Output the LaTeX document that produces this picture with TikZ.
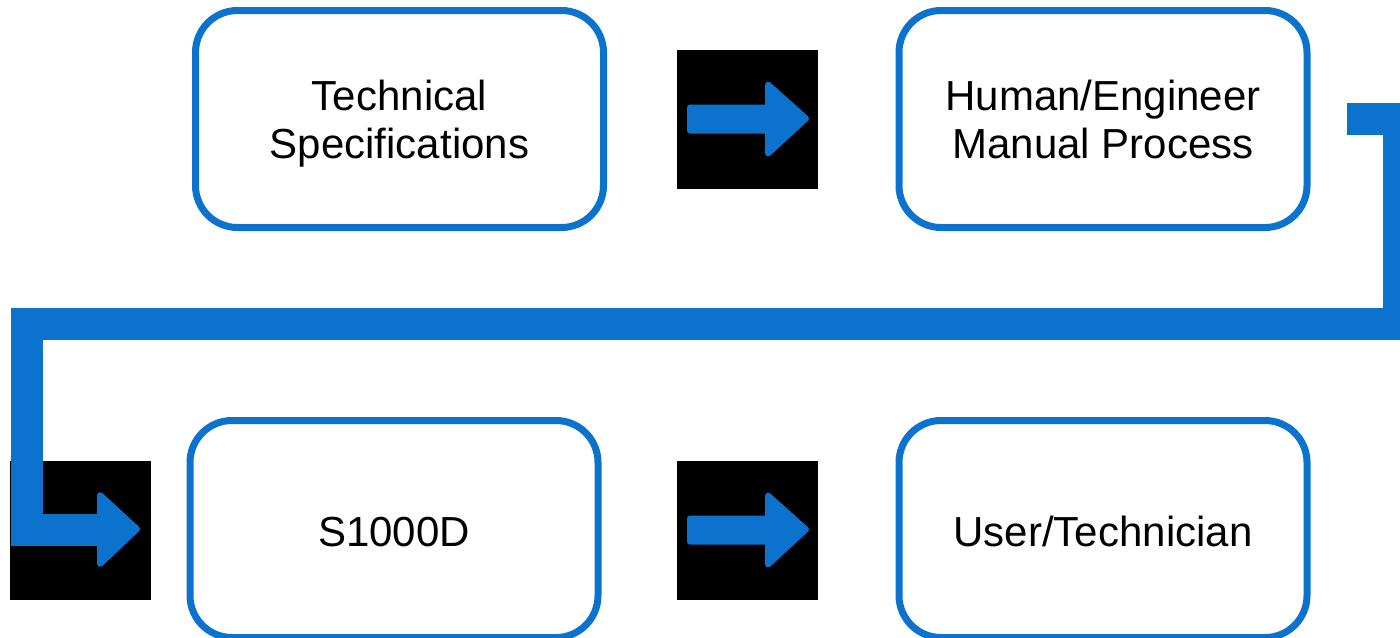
\documentclass[tikz,border=0pt]{standalone}
\usepackage{fontspec}
\setmainfont{Liberation Sans}
\usetikzlibrary{calc}
\definecolor{blu}{RGB}{11,115,206}
\newcommand{\twolines}[2]{\raisebox{0pt}[15pt][24pt]{\begin{tabular}[t]{@{}c@{}}#1\\#2\end{tabular}}}
\tikzset{
  box/.style={draw=blu, line width=3.5pt, rounded corners=21pt, minimum width=204pt,
    minimum height=108.5pt, font=\fontsize{21}{24}\selectfont, fill=white, inner sep=0pt},
  oneline/.style={text height=17pt, text depth=0pt},
  blk/.style={fill=black, minimum width=70.5pt, minimum height=69.5pt, inner sep=0pt, draw=none},
  arr/.style={fill=blu, draw=blu, line width=3pt, line join=round},
  link/.style={draw=blu, line width=16pt, line join=miter, line cap=butt},
  rarrow/.pic={
    \filldraw[arr] (-57.5,-11.5) -- (20.5,-11.5) -- (20.5,-34.5) -- (58.5,-0.5)
      -- (20.5,34.5) -- (20.5,11.5) -- (-57.5,11.5) -- cycle;
  }
}
\begin{document}
\begin{tikzpicture}[x=0.5pt,y=-0.5pt]
\path[use as bounding box] (0,0) rectangle (1400,637);
\clip (0,0) rectangle (1400,637);
\fill[white] (0,0) rectangle (1400,637);

\node[box] (b1) at (399.5,119) {\twolines{Technical}{Specifications}};
\node[box] (b2) at (1103,119) {\twolines{Human/Engineer}{Manual Process}};
\node[box, oneline] (b3) at (394,529) {S1000D};
\node[box, oneline] (b4) at (1103,529) {User/Technician};

\node[blk] (s1) at (747.5,119) {};
\node[blk] (s2) at (747.5,530) {};
\node[blk] (s3) at (80,530) {};

\pic at (s1) {rarrow};
\pic at (s2) {rarrow};

\coordinate (c0) at ($(b2.east)+(36.5,0)$);
\coordinate (c1) at (1399,119);
\coordinate (c2) at (1399,324);
\coordinate (c3) at (26.5,324);
\coordinate (c4) at (26.5,530);
\coordinate (c5) at ($(s3.center)+(19,0)$);
\draw[link] (c0) -- (c1) -- (c2) -- (c3) -- (c4) -- (c5);
\filldraw[arr] ($(s3.center)+(20,-35)$) -- ($(s3.center)+(57,-1)$) -- ($(s3.center)+(20,34)$) -- cycle;
\end{tikzpicture}
\end{document}
